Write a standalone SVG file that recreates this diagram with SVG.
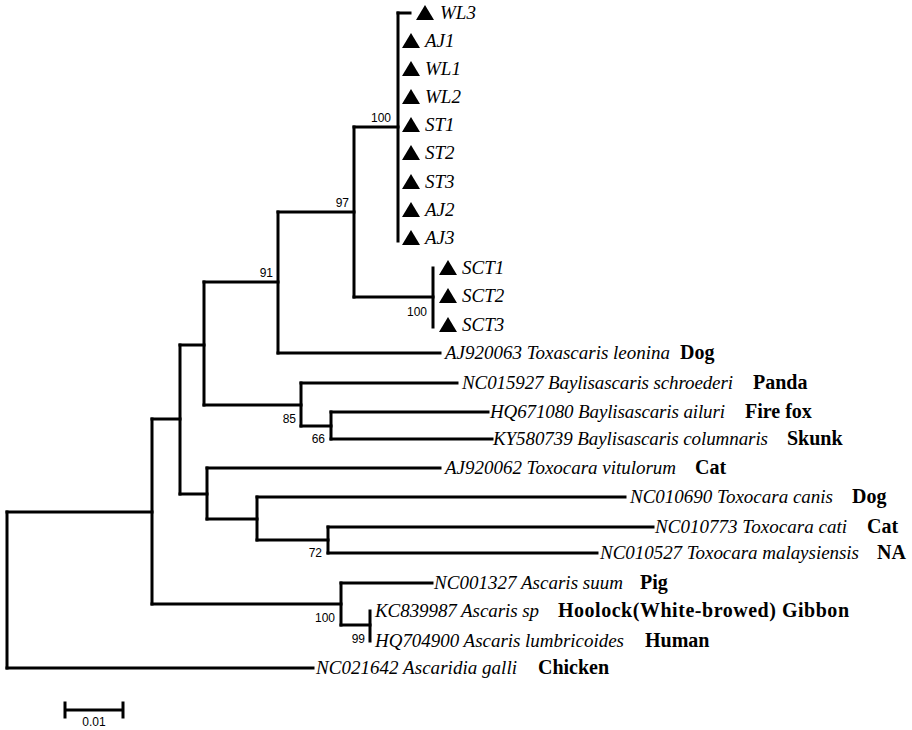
<svg xmlns="http://www.w3.org/2000/svg" width="912" height="730" viewBox="0 0 912 730">
<style>
.br{fill:none;stroke:#000;stroke-width:3;stroke-linecap:square}
.sp{font-family:"Liberation Serif","Times New Roman",serif;font-style:italic;font-size:19px;fill:#000}
.host{font-family:"Liberation Serif","Times New Roman",serif;font-weight:bold;font-size:20px;fill:#000}
.bs{font-family:"Liberation Sans",Arial,sans-serif;font-size:12px;fill:#000}
.tri{fill:#000}
</style>
<defs>
<path id="t" class="tri" d="M0 -8 L9 7 L-9 7 Z"/>
</defs>
<rect width="912" height="730" fill="#fff"/>
<g id="connectors">
<path class="br" d="M7 512V668M152 419V604M180 345V494M204 282V405M207 468V519M257 497V540M278 212V353M301 383V426M328 527V553M331 412V439M341 583V625M354 127V297M370 611V641M398 13V241M433 268V327"/>
<path class="br" d="M7 512H152M7 668H313M152 419H180M152 604H341M180 345H204M180 494H207M204 282H278M204 405H301M278 212H354M278 353H440M354 127H398M354 297H433M398 13H410M301 383H457M301 426H331M331 412H488M331 439H492M207 468H440M207 519H257M257 497H625M257 540H328M328 527H653M328 553H597M341 583H432M341 625H370"/>
</g>
<g id="bootstrap">
<text class="bs" x="391" y="122" text-anchor="end">100</text>
<text class="bs" x="349" y="207" text-anchor="end">97</text>
<text class="bs" x="273" y="277" text-anchor="end">91</text>
<text class="bs" x="427" y="316" text-anchor="end">100</text>
<text class="bs" x="296" y="423" text-anchor="end">85</text>
<text class="bs" x="325" y="443" text-anchor="end">66</text>
<text class="bs" x="322" y="557" text-anchor="end">72</text>
<text class="bs" x="335" y="622" text-anchor="end">100</text>
<text class="bs" x="365" y="643" text-anchor="end">99</text>
</g>
<g id="WL3"><use href="#t" x="425" y="13"/><text class="sp" x="440" y="19">WL3</text></g>
<g id="AJ1"><use href="#t" x="411" y="41"/><text class="sp" x="425" y="47">AJ1</text></g>
<g id="WL1"><use href="#t" x="411" y="69"/><text class="sp" x="425" y="75">WL1</text></g>
<g id="WL2"><use href="#t" x="411" y="97"/><text class="sp" x="425" y="103">WL2</text></g>
<g id="ST1"><use href="#t" x="411" y="125"/><text class="sp" x="425" y="131">ST1</text></g>
<g id="ST2"><use href="#t" x="411" y="153"/><text class="sp" x="425" y="159">ST2</text></g>
<g id="ST3"><use href="#t" x="411" y="182"/><text class="sp" x="425" y="188">ST3</text></g>
<g id="AJ2"><use href="#t" x="411" y="210"/><text class="sp" x="425" y="216">AJ2</text></g>
<g id="AJ3"><use href="#t" x="411" y="238"/><text class="sp" x="425" y="244">AJ3</text></g>
<g id="SCT1"><use href="#t" x="448" y="268"/><text class="sp" x="462" y="274">SCT1</text></g>
<g id="SCT2"><use href="#t" x="448" y="296"/><text class="sp" x="462" y="302">SCT2</text></g>
<g id="SCT3"><use href="#t" x="448" y="325"/><text class="sp" x="462" y="331">SCT3</text></g>
<g id="AJ920063"><text class="sp" x="445" y="359" textLength="225">AJ920063 Toxascaris leonina</text><text class="host" x="680" y="359">Dog</text></g>
<g id="NC015927"><text class="sp" x="462" y="389" textLength="271">NC015927 Baylisascaris schroederi</text><text class="host" x="753" y="389">Panda</text></g>
<g id="HQ671080"><text class="sp" x="490" y="418" textLength="235">HQ671080 Baylisascaris ailuri</text><text class="host" x="745" y="418">Fire fox</text></g>
<g id="KY580739"><text class="sp" x="493" y="445" textLength="275">KY580739 Baylisascaris columnaris</text><text class="host" x="787" y="445">Skunk</text></g>
<g id="AJ920062"><text class="sp" x="445" y="474" textLength="231">AJ920062 Toxocara vitulorum</text><text class="host" x="695" y="474">Cat</text></g>
<g id="NC010690"><text class="sp" x="630" y="503" textLength="203">NC010690 Toxocara canis</text><text class="host" x="852" y="503">Dog</text></g>
<g id="NC010773"><text class="sp" x="655" y="533" textLength="192">NC010773 Toxocara cati</text><text class="host" x="867" y="533">Cat</text></g>
<g id="NC010527"><text class="sp" x="600" y="559" textLength="259">NC010527 Toxocara malaysiensis</text><text class="host" x="877" y="559">NA</text></g>
<g id="NC001327"><text class="sp" x="434" y="589" textLength="189">NC001327 Ascaris suum</text><text class="host" x="640" y="589">Pig</text></g>
<g id="KC839987"><text class="sp" x="375" y="617" textLength="164">KC839987 Ascaris sp</text><text class="host" x="558" y="617" textLength="291">Hoolock(White-browed) Gibbon</text></g>
<g id="HQ704900"><text class="sp" x="375" y="647" textLength="249">HQ704900 Ascaris lumbricoides</text><text class="host" x="645" y="647">Human</text></g>
<g id="NC021642"><text class="sp" x="316" y="674" textLength="201">NC021642 Ascaridia galli</text><text class="host" x="538" y="674">Chicken</text></g>
<g id="scalebar">
<path class="br" d="M65 710H123M65 703V717M123 703V717"/>
<text class="bs" x="94" y="726" text-anchor="middle">0.01</text>
</g>
</svg>
